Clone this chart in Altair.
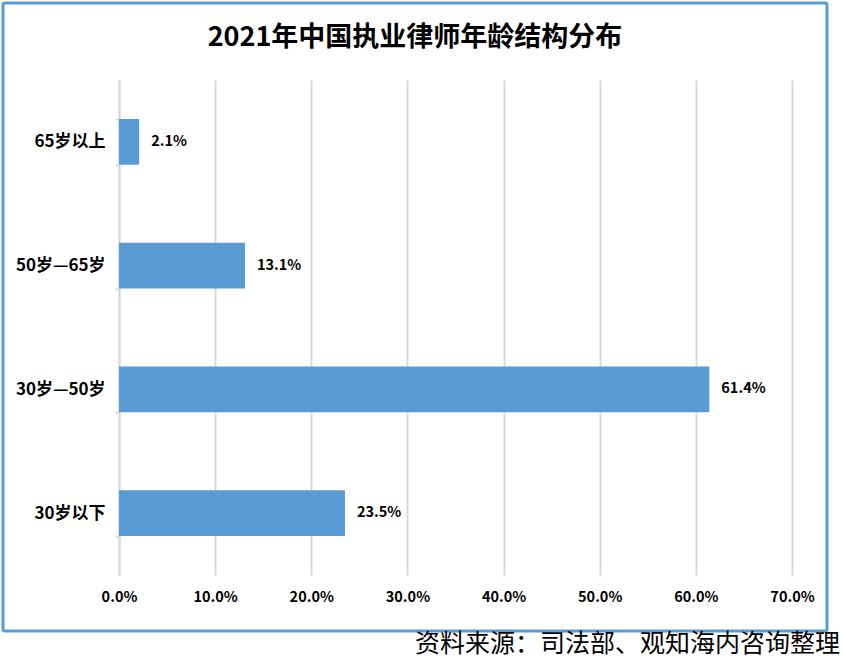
import altair as alt
import pandas as pd

categories = ["65岁以上", "50岁—65岁", "30岁—50岁", "30岁以下"]
values = [2.1, 13.1, 61.4, 23.5]
title_text = "2021年中国执业律师年龄结构分布"
source_text = "资料来源：司法部、观知海内咨询整理"

df = pd.DataFrame({"cat": categories, "val": values})
df["label"] = [f"{v:.1f}%" for v in values]

FONT = "Noto Sans CJK SC"
W, H = 673, 495
BLUE = "#5B9BD5"

y_enc = alt.Y("cat:N", sort=categories, title=None,
              scale=alt.Scale(paddingInner=0.63, paddingOuter=0.315),
              axis=alt.Axis(labelFont=FONT, labelFontSize=17, labelFontWeight="bold",
                            labelColor="#000000", labelPadding=10, tickBand="extent",
                            tickColor="#D9D9D9", tickSize=4, tickWidth=2,
                            domainColor="#D9D9D9", domainWidth=2, grid=False))
x_enc = alt.X("val:Q", title=None,
              scale=alt.Scale(domain=[0, 70], nice=False),
              axis=alt.Axis(values=[0, 10, 20, 30, 40, 50, 60, 70],
                            labelExpr="format(datum.value, '.1f') + '%'",
                            labelFont=FONT, labelFontSize=14.5, labelFontWeight="bold",
                            labelColor="#000000", labelPadding=15, ticks=False,
                            labelFlush=False,
                            domain=False, grid=True, gridColor="#D9D9D9", gridWidth=2))

bars = alt.Chart(df).mark_bar(color=BLUE).encode(x=x_enc, y=y_enc)

labels = alt.Chart(df).mark_text(align="left", dx=12, font=FONT, fontSize=14.5,
                                 fontWeight="bold", color="#000000").encode(
    x=alt.X("val:Q"), y=alt.Y("cat:N", sort=categories), text="label:N")

border_df = pd.DataFrame({"k": [1]})
border = alt.Chart(border_df).mark_rect(fill=None, stroke=BLUE, strokeWidth=3,
                                        cornerRadius=2, clip=False).encode(
    x=alt.value(-116), x2=alt.value(708), y=alt.value(-77), y2=alt.value(551))

title_df = pd.DataFrame({"t": [title_text]})
title = alt.Chart(title_df).mark_text(font=FONT, fontSize=27, fontWeight="bold",
                                      color="#000000", align="center", baseline="middle").encode(
    x=alt.value(296), y=alt.value(-42), text="t:N")

source_df = pd.DataFrame({"t": [source_text]})
source = alt.Chart(source_df).mark_text(font=FONT, fontSize=25, color="#000000",
                                        align="right", baseline="middle").encode(
    x=alt.value(721), y=alt.value(564), text="t:N")

chart = alt.layer(border, bars, labels, title, source).properties(
    width=W, height=H,
    padding={"left": 119, "top": 80, "right": 51, "bottom": 92},
    autosize=alt.AutoSizeParams(type="none"),
    background="white",
).configure_view(stroke=None)

chart.save("out.html", embed_options={"renderer": "svg", "actions": False})
